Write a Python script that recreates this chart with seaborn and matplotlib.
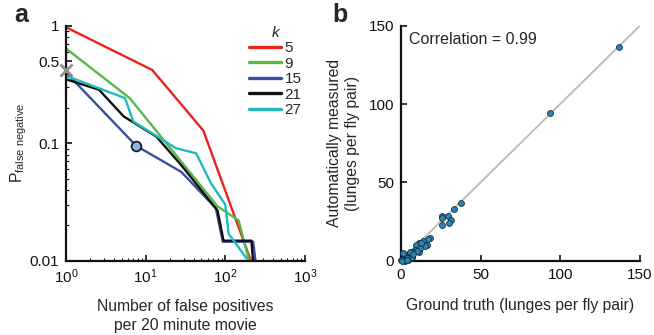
import matplotlib
matplotlib.use("Agg")
import matplotlib.pyplot as plt
import matplotlib.ticker as mticker
import numpy as np
import pandas as pd
import seaborn as sns

# Panel a: detection trade-off curves for each k
k_values = [5, 9, 15, 21, 27]
fp_k5 = [1, 12.1, 53, 215]
pfn_k5 = [0.97, 0.42, 0.128, 0.0095]
fp_k9 = [1, 6.3, 80, 147, 203]
pfn_k9 = [0.64, 0.242, 0.029, 0.022, 0.0095]
fp_k15 = [1, 7.6, 28, 76, 93, 224, 241]
pfn_k15 = [0.40, 0.095, 0.057, 0.028, 0.0145, 0.0145, 0.0095]
fp_k21 = [1, 2.6, 5.3, 13.6, 28, 80, 95, 213, 224]
pfn_k21 = [0.35, 0.285, 0.169, 0.114, 0.065, 0.0267, 0.0148, 0.0148, 0.0095]
fp_k27 = [1, 5.5, 7.0, 24, 43, 66, 100, 110, 205]
pfn_k27 = [0.375, 0.242, 0.153, 0.0906, 0.082, 0.0457, 0.030, 0.017, 0.0095]

# Panel b: ground truth vs automatic counts
truth = [137, 93.5, 37.5, 33.5, 25.5, 25.5, 25.5, 29.7, 31.4, 30.3, 18.2, 16.8,
         14.0, 11.5, 13.0, 16.5, 10.9, 9.4, 8.8, 11.5, 6.7, 5.6, 3.6, 2.1, 1.0,
         2.5, 4.6, 6.7, 0.2, 3.5, 15.1, 11.9, 9.8, 5.6, 6.7, 3.6, 1.5, 2.5, 0.4,
         12.5, 7.5, 4.0]
measured = [136.5, 94.2, 37.1, 32.9, 28.4, 27.0, 23.1, 28.4, 25.9, 24.2, 14.6, 13.6,
            12.5, 11.5, 10.0, 9.8, 8.9, 10.0, 6.8, 5.7, 5.7, 3.6, 2.5, 4.3, 0.4,
            0.0, 0.4, 2.2, 0.5, 1.0, 9.3, 7.9, 6.4, 5.7, 2.5, 1.5, 4.7, 0.4, 0.0,
            11.0, 4.5, 0.2]

colors = ["#e8221e", "#58b847", "#3a4ea0", "#111111", "#1fbac0"]

sns.set_style("white")
plt.rcParams["font.family"] = ["Liberation Sans", "DejaVu Sans"]
plt.rcParams["mathtext.fontset"] = "custom"
plt.rcParams["mathtext.rm"] = "Liberation Sans"
plt.rcParams["mathtext.it"] = "Liberation Sans:italic"
plt.rcParams["font.size"] = 11

rows = []
for k, xs, ys in zip(k_values,
                     [fp_k5, fp_k9, fp_k15, fp_k21, fp_k27],
                     [pfn_k5, pfn_k9, pfn_k15, pfn_k21, pfn_k27]):
    for order, (x, y) in enumerate(zip(xs, ys)):
        rows.append({"k": str(k), "fp": x, "pfn": y, "order": order})
df_a = pd.DataFrame(rows)
df_b = pd.DataFrame({"truth": truth, "measured": measured})

fig = plt.figure(figsize=(6.54, 3.35), dpi=100)
ax1 = fig.add_axes([0.1009, 0.2218, 0.3654, 0.7015])
ax2 = fig.add_axes([0.613, 0.2218, 0.3654, 0.7015])

# ---- panel a
sns.lineplot(data=df_a, x="fp", y="pfn", hue="k", palette=colors, sort=False,
             estimator=None, linewidth=1.7, ax=ax1, legend=True)
ax1.plot([1], [0.42], marker="x", color="#909090", markersize=8, mew=2,
         clip_on=False, zorder=5)
ax1.plot([fp_k15[1]], [pfn_k15[1]], marker="o", markersize=7, mfc="#8fb4e0",
         mec="#1a1a2a", mew=1.3, zorder=5)
ax1.set_xscale("log")
ax1.set_yscale("log")
ax1.set_xlim(1, 1000)
ax1.set_ylim(0.01, 1)
ax1.set_yticks([0.01, 0.1, 0.5, 1])
ax1.yaxis.set_major_formatter(mticker.FixedFormatter(["0.01", "0.1", "0.5", "1"]))
ax1.yaxis.set_minor_locator(mticker.LogLocator(base=10, subs=np.arange(2, 10)))
ax1.yaxis.set_minor_formatter(mticker.NullFormatter())
ax1.xaxis.set_minor_locator(mticker.LogLocator(base=10, subs=np.arange(2, 10)))
ax1.set_xlabel("Number of false positives\nper 20 minute movie", fontsize=11.3,
               labelpad=9, linespacing=1.35)
ax1.set_ylabel(r"P$_{\mathrm{false\ negative}}$", fontsize=11.3, labelpad=0)
leg = ax1.legend(title="k", frameon=False, loc="upper left",
                 bbox_to_anchor=(0.765, 1.0), handlelength=2.1, handletextpad=0.25,
                 labelspacing=0.1, fontsize=11, borderaxespad=0.0,
                 borderpad=0.0)
leg.get_title().set_fontstyle("italic")
leg.get_title().set_fontsize(11)
for line in leg.get_lines():
    line.set_linewidth(2.4)

# ---- panel b
ax2.plot([0, 150], [0, 150], color="#bdbdbd", linewidth=1.4, zorder=1)
sns.scatterplot(data=df_b, x="truth", y="measured", color="#2a86b0",
                edgecolor="#1a2a3a", linewidth=0.6, s=18, ax=ax2, zorder=3,
                clip_on=False)
ax2.set_xlim(0, 150)
ax2.set_ylim(0, 150)
ax2.set_xticks([0, 50, 100, 150])
ax2.set_yticks([0, 50, 100, 150])
ax2.set_xlabel("Ground truth (lunges per fly pair)", fontsize=11.3, labelpad=12)
ax2.set_ylabel("Automatically measured\n(lunges per fly pair)", fontsize=11.3,
               labelpad=6, linespacing=1.3)
ax2.text(5, 141, "Correlation = 0.99", fontsize=11.5, va="center")

for ax in (ax1, ax2):
    sns.despine(ax=ax)
    for side in ("left", "bottom"):
        ax.spines[side].set_linewidth(1.6)
        ax.spines[side].set_color("#111111")
    ax.tick_params(which="major", direction="in", length=4, width=1.2,
                   labelsize=11, pad=5, left=True, bottom=True, colors="#111111")
    ax.tick_params(which="minor", direction="in", length=2, width=0.8,
                   left=True, bottom=True, colors="#111111")
    ax.grid(False)

fig.text(0.022, 0.955, "a", fontsize=18, fontweight="bold", va="center")
fig.text(0.508, 0.955, "b", fontsize=18, fontweight="bold", va="center")

fig.savefig("out.png", dpi=100)
